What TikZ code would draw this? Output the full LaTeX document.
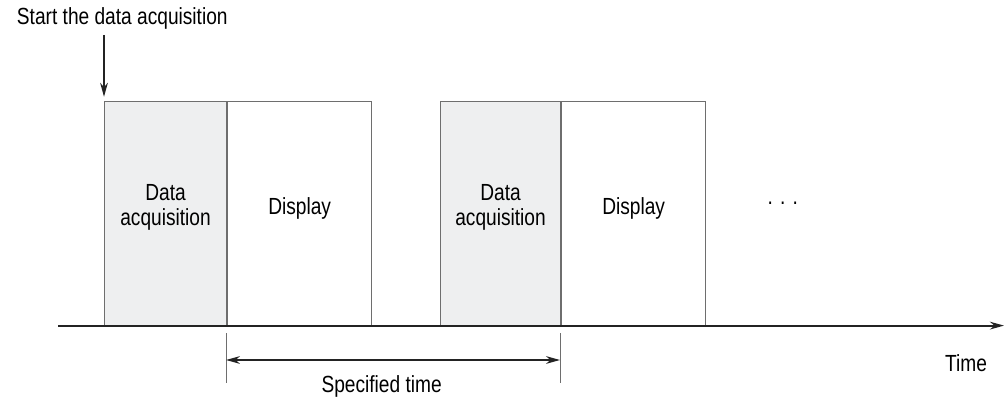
\documentclass[tikz,border=0pt]{standalone}
\usepackage{fontspec}
\setmainfont{Liberation Sans}[FakeStretch=0.82]
\usetikzlibrary{arrows.meta,positioning}
\definecolor{acqfill}{RGB}{238,239,240}
\definecolor{boxgray}{RGB}{110,110,110}
\definecolor{linedark}{RGB}{35,35,35}
\begin{document}
\begin{tikzpicture}[font=\fontsize{16.6}{17.8}\selectfont, >={Stealth[length=10pt,width=5.5pt]}]
    % Styles
    \tikzset{
      acq box/.style={draw=boxgray, fill=acqfill, line width=0.8pt, minimum height=5.615cm, inner sep=0pt, anchor=north west},
      disp box/.style={draw=boxgray, fill=white, line width=0.8pt, minimum height=5.615cm, inner sep=0pt, anchor=north west},
      axis line/.style={draw=linedark, line width=1.4pt},
      dim line/.style={draw=linedark, line width=1.2pt},
      tick line/.style={draw=boxgray, line width=0.7pt},
      box text/.style={align=center}
    }
    \useasboundingbox (0,0) rectangle (25.2,-10.025);

    % Start label and arrow
    \node[anchor=west] (start) at (0.3,-0.45) {Start the data acquisition};
    \coordinate (s0) at (2.6,-0.875);

    % First cycle
    \node[acq box, minimum width=3.05cm] (acq1) at (2.6,-2.525) {};
    \node[disp box, minimum width=3.6cm] (disp1) at (acq1.north east) {};
    \node[box text] at ([yshift=0.17cm]acq1.center) {Data\\acquisition};
    \node[box text] at ([yshift=0.13cm]disp1.center) {Display};

    % Second cycle
    \node[acq box, minimum width=3.0cm] (acq2) at (11.0,-2.525) {};
    \node[disp box, minimum width=3.6cm] (disp2) at (acq2.north east) {};
    \node[box text] at ([yshift=0.17cm]acq2.center) {Data\\acquisition};
    \node[box text] at ([yshift=0.13cm]disp2.center) {Display};

    \node (dots) at (19.57,-5.08) {. . .};

    \draw[->, dim line] (s0) -- ([yshift=3pt]acq1.north west);

    % Time axis
    \coordinate (ax0) at (1.45,-8.14);
    \coordinate (ax1) at (25.1,-8.14);
    \draw[->, axis line] (ax0) -- (ax1);
    \node (time) at (24.15,-9.08) {Time};

    % Specified time
    \coordinate (st0) at (5.65,-8.325);
    \coordinate (st0b) at (5.65,-9.575);
    \coordinate (st1) at (14.0,-8.325);
    \coordinate (st1b) at (14.0,-9.575);
    \draw[tick line] (st0) -- (st0b);
    \draw[tick line] (st1) -- (st1b);
    \coordinate (sa) at (5.65,-9.0);
    \coordinate (sb) at (14.0,-9.0);
    \draw[<->, dim line] (sa) -- (sb);
    \node (spec) at (9.54,-9.67) {Specified time};
\end{tikzpicture}
\end{document}
